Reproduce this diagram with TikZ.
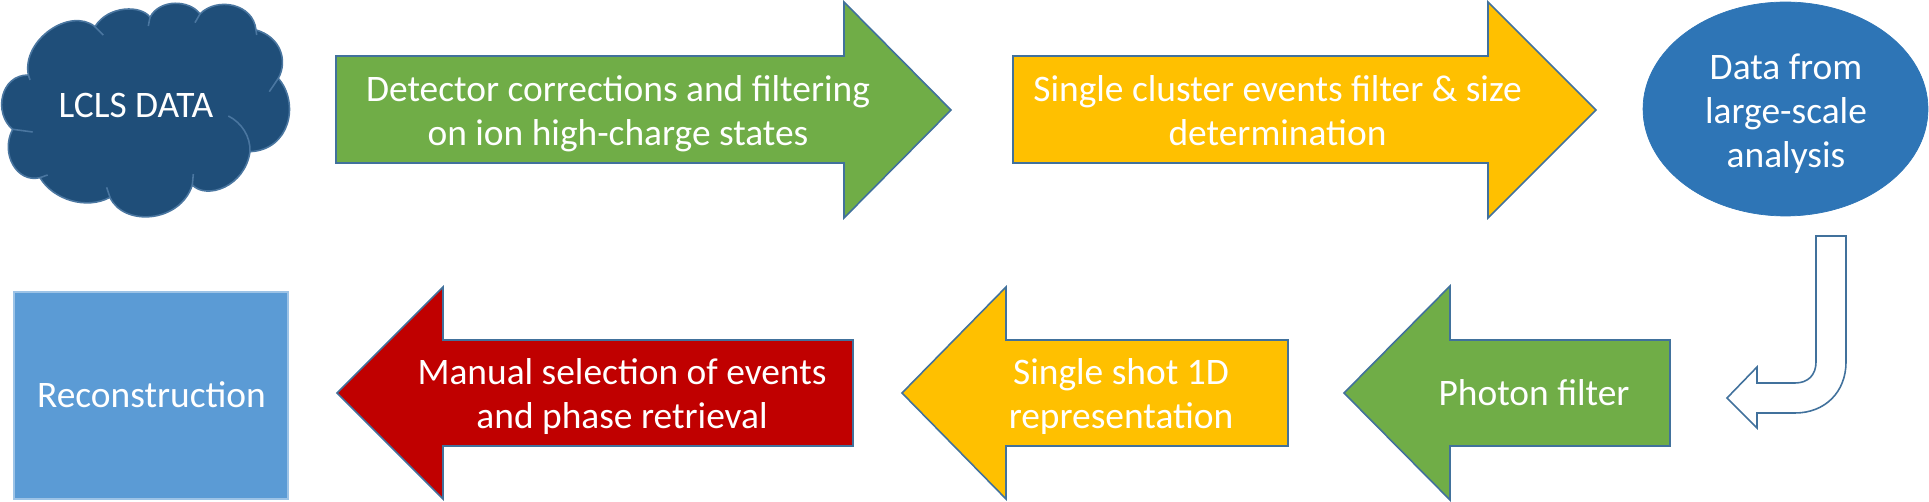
\documentclass[tikz,border=0pt]{standalone}
\usepackage{fontspec}
\setmainfont{Carlito}
\usetikzlibrary{shapes.geometric}
\definecolor{greenfill}{HTML}{70AD47}
\definecolor{yellowfill}{HTML}{FFC000}
\definecolor{redfill}{HTML}{C00000}
\definecolor{cloudfill}{HTML}{1F4E79}
\definecolor{cloudedge}{HTML}{4A76A0}
\definecolor{ellfill}{HTML}{2E75B6}
\definecolor{recfill}{HTML}{5B9BD5}
\definecolor{recedge}{HTML}{9DC3E6}
\definecolor{arrowedge}{HTML}{41719C}

\begin{document}
\begin{tikzpicture}[
  x=0.02cm, y=-0.02cm,
  arrowshape/.style={draw=arrowedge, line width=0.9pt, fill=#1, line join=miter},
  lab/.style={text=white, align=center, anchor=base, inner sep=0pt, font=\fontsize{21.3}{25.3}\selectfont},
]
\useasboundingbox (0,0) rectangle (1929,502);
% ---- cloud, outline traced lobe by lobe
\begin{scope}[x=0.00667cm, y=-0.00667cm]
\draw[draw=cloudedge, line width=0.9pt, fill=cloudfill]
  (85,225) .. controls (65,120) and (210,20) .. (285,80)
  .. controls (325,15) and (425,15) .. (450,52)
  .. controls (480,-5) and (570,0) .. (600,42)
  .. controls (650,-10) and (760,10) .. (768,90)
  .. controls (840,110) and (865,180) .. (835,235)
  .. controls (900,310) and (870,450) .. (750,455)
  .. controls (735,560) and (620,600) .. (577,555)
  .. controls (540,670) and (370,680) .. (330,592)
  .. controls (260,630) and (160,600) .. (120,533)
  .. controls (50,550) and (0,460) .. (38,388)
  .. controls (-20,340) and (0,225) .. (85,225);
\draw[draw=cloudedge, line width=0.9pt]
  (285,80) -- (310,105)
  (450,52) -- (445,78)
  (600,42) -- (585,68)
  (768,90) -- (770,105)
  (835,235) -- (808,275)
  (750,455) .. controls (752,410) and (725,368) .. (685,348)
  (577,555) -- (580,522)
  (330,592) -- (320,562)
  (120,533) -- (143,525)
  (38,388) -- (98,396)
  (85,225) -- (90,240);
\end{scope}
\node[lab] (data) at (136,118) {LCLS DATA};
% ---- top row
\draw[arrowshape=greenfill] (336,56) -- (844,56) -- (844,2) -- (951,110) -- (844,218) -- (844,163) -- (336,163) -- cycle;
\node[lab] (corrections) at (618,146) {Detector corrections and filtering\\on ion high-charge states};
\draw[arrowshape=yellowfill] (1013,56) -- (1488,56) -- (1488,2) -- (1596,110) -- (1488,218) -- (1488,163) -- (1013,163) -- cycle;
\node[lab] (cluster) at (1277.5,146) {Single cluster events filter \& size\\determination};
\node[ellipse, draw=ellfill, fill=ellfill, minimum width=5.7cm, minimum height=4.28cm, inner sep=0pt] (largescale) at (1785.5,109) {};
\node[lab] (largetext) at (1786,168) {Data from\\large-scale\\analysis};
% ---- bent arrow between rows
\draw[draw=arrowedge, line width=0.9pt, fill=white] (1816,236) -- (1846,236) -- (1846,362)
  .. controls (1846,392) and (1825,413) .. (1795,413)
  -- (1757,413) -- (1757,428) -- (1727,398) -- (1757,367) -- (1757,383) -- (1795,383)
  .. controls (1808,383) and (1816,375) .. (1816,362) -- cycle;
% ---- bottom row
\draw[arrowshape=greenfill] (1670,340) -- (1450,340) -- (1450,286) -- (1344,393) -- (1450,500) -- (1450,446) -- (1670,446) -- cycle;
\node[lab] (photon) at (1534,406) {Photon filter};
\draw[arrowshape=yellowfill] (1288,340) -- (1006,340) -- (1006,287) -- (902,393) -- (1006,499) -- (1006,446) -- (1288,446) -- cycle;
\node[lab] (shot) at (1121,429) {Single shot 1D\\representation};
\draw[arrowshape=redfill] (853,340) -- (443,340) -- (443,287) -- (337,393) -- (443,499) -- (443,446) -- (853,446) -- cycle;
\node[lab] (manual) at (622,429) {Manual selection of events\\and phase retrieval};
\node[rectangle, draw=recedge, line width=0.9pt, fill=recfill, minimum width=5.48cm, minimum height=4.14cm, inner sep=0pt] (recon) at (151,395.5) {};
\node[lab] (recontext) at (151.5,408) {Reconstruction};
\end{tikzpicture}
\end{document}
